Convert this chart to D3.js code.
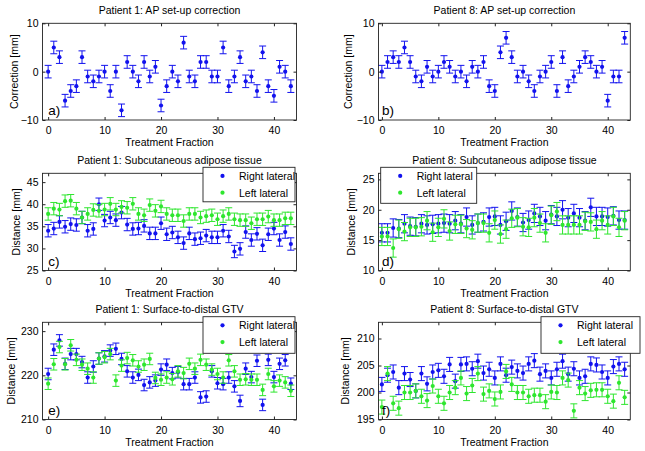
<!DOCTYPE html>
<html><head><meta charset="utf-8">
<script src="https://cdn.jsdelivr.net/npm/d3@7"></script>
<style>
body{margin:0;background:#fff}
svg{display:block}
text{font-family:"Liberation Sans",Arial,Helvetica,sans-serif;fill:#000}
</style>
</head><body>
<svg id="chart" width="645" height="451"></svg>
<script>
// ---------- DATA ----------
const fractions = [0,1,2,3,4,5,6,7,8,9,10,11,12,13,14,15,16,17,18,19,20,21,22,23,24,25,26,27,28,29,30,31,32,33,34,35,36,37,38,39,40,41,42,43];
const xTicks = [0,10,20,30,40];
const seriesNames = ["Right lateral","Left lateral"];

const p1ApCorrection = [0,5,3,-6,-4,-3,3,-1,-2,-1, 0,-4,0,-8,2,0,-2,2,-1,1, -7,-3,0,-2,6,-1,-2,2,2,-1, -1,5,-3,-1,3,-2,-1,-4,4,-3, -5,1,0,-3];
const p8ApCorrection = [0,2,3,2,5,2,-1,-2,1,-1, 0,2,1,-1,0,-2,1,0,2,-3, -4,4,7,3,-1,0,-2,-4,-1,0, 2,-4,3,-3,-1,1,3,2,0,1, -6,-1,-1,7];

const p1AdiposeRight = [34.0,34.5,36.0,34.9,35.5,35.3,37.0,34.0,34.4,40.0, 36.3,37.0,36.4,38.1,35.4,34.4,34.5,35.1,33.4,33.4, 35.7,33.2,33.6,32.5,31.2,33.4,32.1,32.3,32.9,32.5, 32.5,34.0,32.7,29.3,29.9,33.7,31.9,33.3,30.7,33.2, 34.5,31.9,33.7,31.0];
const p1AdiposeLeft  = [37.8,39.0,38.8,40.7,40.8,39.0,37.0,37.8,38.7,38.5, 38.8,40.1,38.8,39.4,39.2,40.1,37.8,37.5,39.8,38.5, 39.5,37.8,37.5,37.5,36.2,37.8,37.8,37.0,37.3,37.5, 36.6,37.3,37.8,36.6,36.4,36.4,35.7,36.6,36.6,37.2, 36.4,36.4,36.8,36.8];

const p8AdiposeRight = [16.2,16.2,17.0,16.9,17.7,17.3,17.2,17.7,17.5,17.6, 17.7,17.8,17.7,18.2,17.7,18.8,17.5,17.8,18.0,18.8, 18.9,17.5,18.1,19.8,18.8,17.9,18.3,19.4,18.9,18.2, 19.2,18.9,20.0,18.7,19.4,18.7,18.2,20.4,18.9,18.9, 18.8,19.0,18.3,18.3];
const p8AdiposeLeft  = [15.6,15.6,13.7,16.8,16.4,17.1,17.1,17.2,18.2,16.3, 17.1,18.5,16.5,17.6,17.6,16.9,16.7,17.8,17.8,16.2, 18.3,16.0,16.8,18.6,18.7,17.2,17.1,18.7,17.8,16.2, 19.1,19.7,17.5,17.5,17.5,17.5,18.1,18.0,16.8,18.2, 17.5,18.9,17.1,18.2];

const p1GtvRight = [220.3,225.8,227.9,222.6,224.8,224.8,223.0,219.5,222.0,223.8, 224.3,225.6,226.0,223.7,220.9,219.5,220.1,217.8,218.4,218.8, 221.3,222.4,220.5,220.7,218.0,218.0,219.5,215.0,215.2,220.9, 218.2,218.0,219.5,217.5,214.2,221.5,219.6,223.3,213.3,223.5, 219.6,222.6,223.4,218.1];
const p1GtvLeft  = [218.1,222.5,226.4,222.5,226.8,223.5,222.4,221.5,219.5,223.8, 224.1,224.8,218.8,222.2,223.9,223.4,222.0,222.4,223.7,219.4, 219.0,219.5,219.1,220.9,220.5,222.6,221.5,223.5,222.4,221.3, 220.3,219.5,223.4,220.9,219.0,219.1,219.0,219.0,216.7,220.3, 217.5,218.8,218.4,216.5];

const p8GtvRight = [201.5,203.2,203.8,200.9,203.5,202.4,200.3,203.5,201.6,203.8, 204.1,203.0,205.2,202.1,205.2,205.3,204.4,205.8,203.6,204.3, 202.7,205.3,203.2,204.7,204.0,203.6,205.3,205.9,203.4,204.0, 202.7,204.3,205.8,203.4,204.4,202.7,203.0,205.3,205.1,203.8, 202.7,204.8,205.3,204.3];
const p8GtvLeft  = [197.3,203.5,198.0,197.1,200.0,200.0,200.3,199.3,198.5,201.2, 199.3,198.0,200.0,200.9,202.7,199.8,201.3,203.5,199.7,200.3, 198.8,200.1,203.9,201.5,200.0,200.0,199.3,199.5,199.5,198.3, 200.1,200.0,202.7,202.3,196.6,200.9,199.8,200.4,200.5,200.5, 199.3,198.4,201.8,199.1];

const yTicksAp = [-10,0,10];
const yTicksP1Adipose = [25,30,35,40,45];
const yTicksP8Adipose = [10,15,20,25];
const yTicksP1Gtv = [210,220,230];
const yTicksP8Gtv = [195,200,205,210];

// ---------- LAYOUT ----------
const BLUE = "#1212ee", GREEN = "#2ee62e";
const FS = 10.5;
const svg = d3.select("#chart");

const L = {x0:42.5, x1:296.5, xdom:[-1,44]};
const R = {x0:378.5, x1:630.3, xdom:[-0.6,44]};
const rows = [{y0:23.3,y1:120},{y0:173.3,y1:270.5},{y0:322.3,y1:419.5}];

const panels = [
  {col:L,row:rows[0],letter:"a)",title:"Patient 1: AP set-up correction",ylabel:"Correction [mm]",ylx:17.5,ydom:[-10,10],yticks:yTicksAp,
   series:[{v:p1ApCorrection,e:1.3,c:BLUE}],legend:null},
  {col:R,row:rows[0],letter:"b)",title:"Patient 8: AP set-up correction",ylabel:"Correction [mm]",ylx:351.5,ydom:[-10,10],yticks:yTicksAp,
   series:[{v:p8ApCorrection,e:1.3,c:BLUE}],legend:null},
  {col:L,row:rows[1],letter:"c)",title:"Patient 1: Subcutaneous adipose tissue",ylabel:"Distance [mm]",ylx:20,ydom:[25,47],yticks:yTicksP1Adipose,
   series:[{v:p1AdiposeRight,e:1.4,c:BLUE},{v:p1AdiposeLeft,e:1.4,c:GREEN}],legend:{x:203,y:167.3,w:92,h:34.5}},
  {col:R,row:rows[1],letter:"d)",title:"Patient 8: Subcutaneous adipose tissue",ylabel:"Distance [mm]",ylx:355,ydom:[10,26],yticks:yTicksP8Adipose,
   series:[{v:p8AdiposeRight,e:1.5,c:BLUE},{v:p8AdiposeLeft,e:1.5,c:GREEN}],legend:{x:380.7,y:167.3,w:96,h:36}},
  {col:L,row:rows[2],letter:"e)",title:"Patient 1: Surface-to-distal GTV",ylabel:"Distance [mm]",ylx:14.5,ydom:[210,232],yticks:yTicksP1Gtv,
   series:[{v:p1GtvRight,e:1.3,c:BLUE},{v:p1GtvLeft,e:1.3,c:GREEN}],legend:{x:203,y:316.7,w:92,h:36.6}},
  {col:R,row:rows[2],letter:"f)",title:"Patient 8: Surface-to-distal GTV",ylabel:"Distance [mm]",ylx:348.5,ydom:[195,213],yticks:yTicksP8Gtv,
   series:[{v:p8GtvRight,e:1.3,c:BLUE},{v:p8GtvLeft,e:1.3,c:GREEN}],legend:{x:541,y:316.7,w:99,h:36.6}}
];

panels.forEach(p => {
  const x = d3.scaleLinear().domain(p.col.xdom).range([p.col.x0, p.col.x1]);
  const y = d3.scaleLinear().domain(p.ydom).range([p.row.y1, p.row.y0]);
  const g = svg.append("g");

  // white plot background
  g.append("rect").attr("x",p.col.x0).attr("y",p.row.y0)
    .attr("width",p.col.x1-p.col.x0).attr("height",p.row.y1-p.row.y0).attr("fill","#fff");

  // series
  p.series.forEach(s => {
    const sg = g.append("g");
    fractions.forEach((f,i) => {
      const v = s.v[i]; const cx = x(f);
      const yt = y(v + s.e), yb = y(v - s.e);
      sg.append("line").attr("x1",cx).attr("x2",cx).attr("y1",yt).attr("y2",yb).attr("stroke",s.c).attr("stroke-width",1);
      sg.append("line").attr("x1",cx-3.5).attr("x2",cx+3.5).attr("y1",yt).attr("y2",yt).attr("stroke",s.c).attr("stroke-width",1);
      sg.append("line").attr("x1",cx-3.5).attr("x2",cx+3.5).attr("y1",yb).attr("y2",yb).attr("stroke",s.c).attr("stroke-width",1);
    });
    sg.selectAll("circle").data(fractions).enter().append("circle")
      .attr("cx",f=>x(f)).attr("cy",(f,i)=>y(s.v[i])).attr("r",2.1).attr("fill",s.c);
  });

  // axes (ticks inward on all sides)
  const ax = (gen, tx, ty) => {
    const a = g.append("g").attr("transform",`translate(${tx},${ty})`).call(gen);
    a.select(".domain").remove();
    a.selectAll(".tick line").attr("stroke","#222");
    a.selectAll(".tick text").style("font-size",FS+"px").style("font-family",'"Liberation Sans",Arial,sans-serif').attr("fill","#000");
    return a;
  };
  ax(d3.axisBottom(x).tickValues(xTicks).tickSizeInner(-3).tickSizeOuter(0).tickPadding(7), 0, p.row.y1);
  ax(d3.axisTop(x).tickValues(xTicks).tickSizeInner(-3).tickSizeOuter(0).tickFormat(""), 0, p.row.y0);
  ax(d3.axisLeft(y).tickValues(p.yticks).tickSizeInner(-3).tickSizeOuter(0).tickPadding(4), p.col.x0, 0);
  ax(d3.axisRight(y).tickValues(p.yticks).tickSizeInner(-3).tickSizeOuter(0).tickFormat(""), p.col.x1, 0);

  // box
  g.append("rect").attr("x",p.col.x0).attr("y",p.row.y0)
    .attr("width",p.col.x1-p.col.x0).attr("height",p.row.y1-p.row.y0)
    .attr("fill","none").attr("stroke","#222").attr("stroke-width",0.9);

  const xm = (p.col.x0+p.col.x1)/2;
  // title
  g.append("text").attr("x",xm).attr("y",p.row.y0-9.8).attr("text-anchor","middle").style("font-size",FS+"px").text(p.title);
  // x label
  g.append("text").attr("x",xm).attr("y",p.row.y1+26).attr("text-anchor","middle").style("font-size",FS+"px").text("Treatment Fraction");
  // y label
  g.append("text").attr("transform",`translate(${p.ylx},${(p.row.y0+p.row.y1)/2}) rotate(-90)`)
    .attr("text-anchor","middle").style("font-size",FS+"px").text(p.ylabel);
  // panel letter
  g.append("text").attr("x",x(0)).attr("y",p.row.y1-5).style("font-size","13.5px").text(p.letter);

  // legend
  if (p.legend) {
    const lg = p.legend;
    const G = svg.append("g");
    G.append("rect").attr("x",lg.x).attr("y",lg.y).attr("width",lg.w).attr("height",lg.h)
      .attr("fill","#fff").attr("stroke","#222").attr("stroke-width",0.9);
    seriesNames.forEach((n,i) => {
      const cy = lg.y + 8.6 + i*16.8;
      G.append("circle").attr("cx",lg.x+19.5).attr("cy",cy).attr("r",2.1).attr("fill",p.series[i].c);
      G.append("text").attr("x",lg.x+36).attr("y",cy+3.8).style("font-size",FS+"px").text(n);
    });
  }
});
</script>
</body></html>
